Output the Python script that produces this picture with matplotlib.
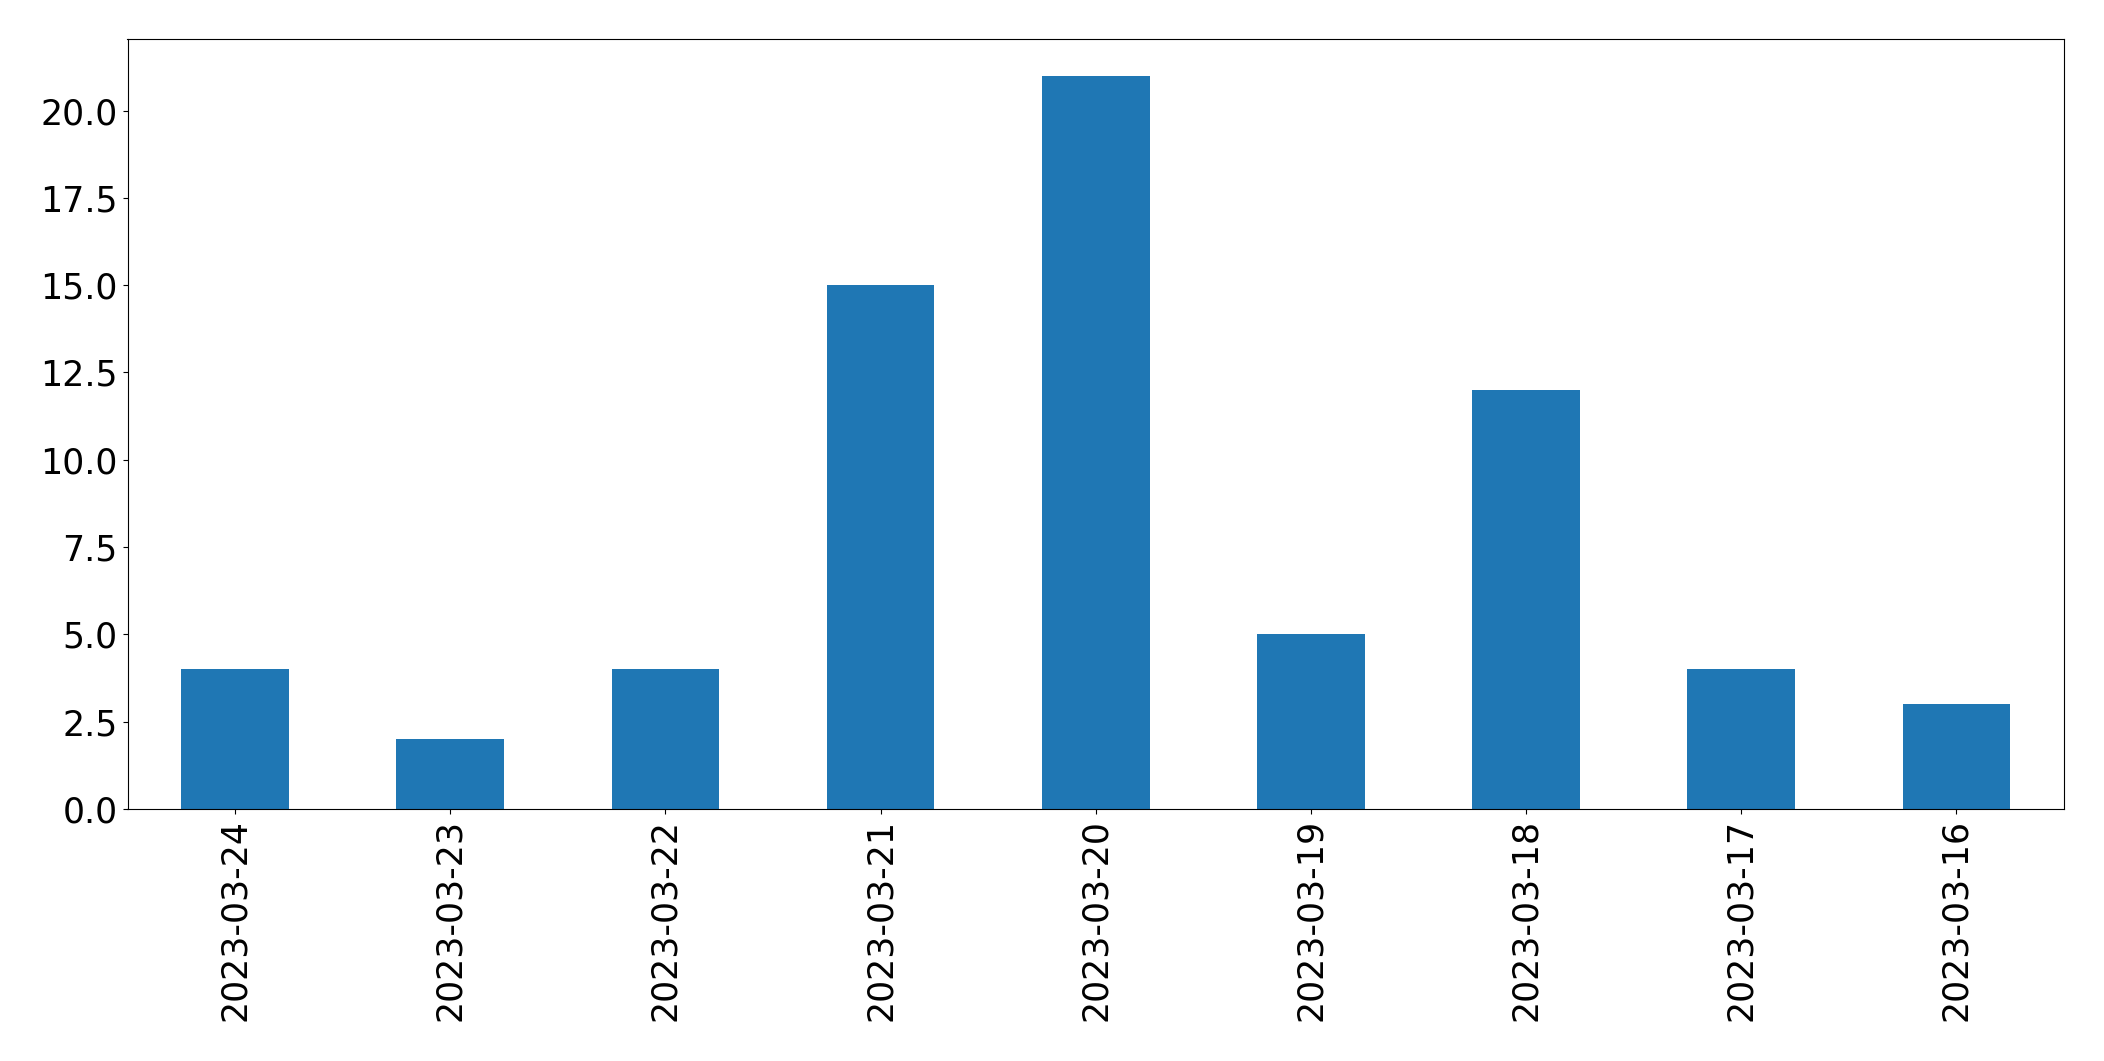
import matplotlib
matplotlib.use("Agg")
import matplotlib.pyplot as plt

dates = ["2023-03-24", "2023-03-23", "2023-03-22", "2023-03-21", "2023-03-20",
         "2023-03-19", "2023-03-18", "2023-03-17", "2023-03-16"]
counts = [4, 2, 4, 15, 21, 5, 12, 4, 3]

fig = plt.figure(figsize=(21.04, 10.61), dpi=100)
ax = fig.add_axes([127.5 / 2104, 1 - 809 / 1061, (2064 - 127.5) / 2104, (809 - 39) / 1061])
x = range(len(dates))
ax.bar(x, counts, width=0.5, color="#1f77b4")
ax.set_xlim(-0.5, len(dates) - 0.5)
ax.set_ylim(0, max(counts) * 1.05)
ax.set_xticks(list(x))
ax.set_xticklabels(dates, rotation=90, fontsize=25)
ax.set_yticks([0, 2.5, 5, 7.5, 10, 12.5, 15, 17.5, 20])
ax.set_yticklabels(["0.0", "2.5", "5.0", "7.5", "10.0", "12.5", "15.0", "17.5", "20.0"], fontsize=25)
fig.savefig("out.png", dpi=100)
